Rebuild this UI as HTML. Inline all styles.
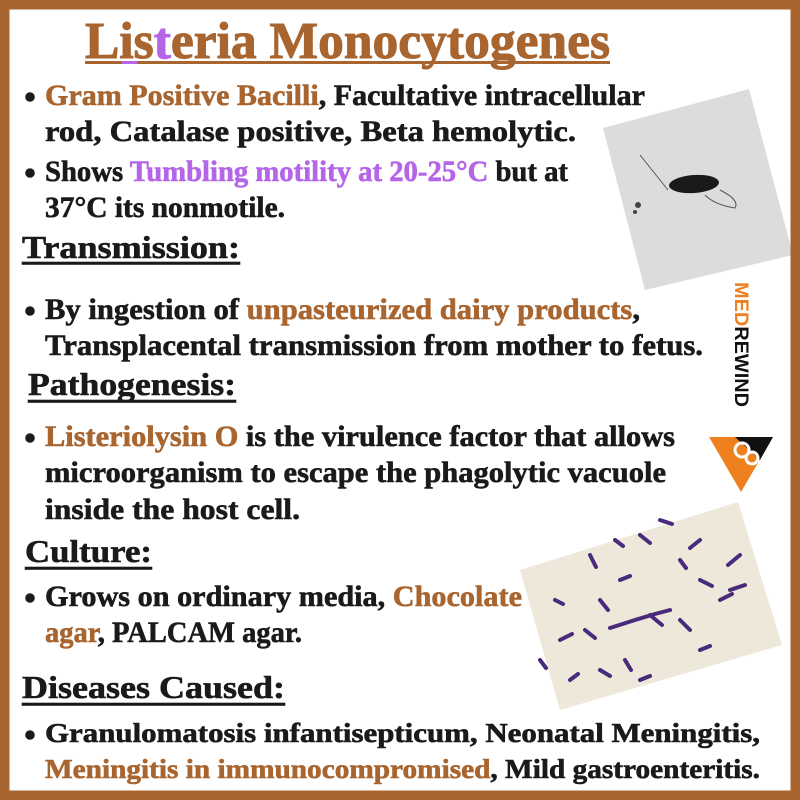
<!DOCTYPE html>
<html><head><meta charset="utf-8"><style>
html,body{margin:0;padding:0;background:#fff;}
svg{display:block;}
text{font-family:"Liberation Serif",serif;font-weight:bold;}
</style></head><body>
<svg width="800" height="800" viewBox="0 0 800 800">
<rect x="0" y="0" width="800" height="800" fill="#fff"/>
<g>
<polygon points="603,128 749,89 793,255 645,290" fill="#dcdcdc"/>
<ellipse cx="694" cy="184" rx="25" ry="9" fill="#1a1a1a" transform="rotate(-4 694 184)"/>
<path d="M640,155 Q660,180 668,190 M720,190 Q740,200 735,208 Q715,205 705,195" stroke="#555" fill="none" stroke-width="1"/>
<circle cx="638" cy="205" r="3" fill="#444"/><circle cx="635" cy="212" r="2" fill="#444"/>
</g>
<g>
<polygon points="520,570 738,502 782,645 560,710" fill="#eee8da"/>
<g stroke="#4a2a7a" stroke-width="4" stroke-linecap="round" fill="none">
<path d="M590,555 l6,12 M615,540 l8,6 M640,535 l10,8 M660,520 l12,4 M700,540 l-10,8 M740,555 l-12,10 M745,585 l-15,5 M560,640 l12,-6 M585,630 l10,8 M610,628 l25,-8 l20,-6 l15,-4 M650,615 l12,10 M680,620 l10,10 M600,600 l8,10 M620,580 l10,-4 M700,580 l12,6 M570,680 l8,-6 M600,670 l10,6 M640,680 l10,-4 M540,660 l6,8 M555,600 l8,4 M720,600 l12,-6 M680,560 l6,8 M625,660 l6,10 M700,650 l10,-4"/>
</g>
</g>
<rect x="4.5" y="4.5" width="791" height="791" fill="none" stroke="#a9652f" stroke-width="10"/>
<g>
<text x="0" y="0" font-size="19" transform="translate(735,282) rotate(90)" textLength="125" lengthAdjust="spacingAndGlyphs"><tspan fill="#ee8020" font-family="Liberation Sans">MED</tspan><tspan fill="#111" font-family="Liberation Sans">REWIND</tspan></text>
<polygon points="709,437 773,437 741,492" fill="#ee8020"/>
<polygon points="735,437 773,437 760,460" fill="#111"/>
<circle cx="742" cy="450" r="7" fill="none" stroke="#fff" stroke-width="3"/>
<circle cx="752" cy="458" r="6" fill="none" stroke="#fff" stroke-width="3"/>
</g>
<text x="85" y="58" font-size="52" fill="#a9652f" stroke="#a9652f" stroke-width="1" textLength="525" lengthAdjust="spacingAndGlyphs">Lis<tspan fill="#b565e8" stroke="#b565e8">t</tspan>eria Monocytogenes</text>
<rect x="85" y="61" width="525" height="3" fill="#a9652f"/>
<rect x="122" y="61" width="15" height="3" fill="#b565e8"/>

<g font-size="30" fill="#1a1a1a" stroke="#1a1a1a" stroke-width="0.6">
<g>
<circle cx="30" cy="97" r="4.5" fill="#1a1a1a"/>
<text x="45" y="105" textLength="600" lengthAdjust="spacingAndGlyphs"><tspan fill="#a9652f" stroke="#a9652f">Gram Positive Bacilli</tspan>, Facultative intracellular</text>
<text x="45" y="141" textLength="531" lengthAdjust="spacingAndGlyphs">rod, Catalase positive, Beta hemolytic.</text>
</g>
<g>
<circle cx="30" cy="173" r="4.5" fill="#1a1a1a"/>
<text x="45" y="181" textLength="523" lengthAdjust="spacingAndGlyphs">Shows <tspan fill="#b565e8" stroke="#b565e8">Tumbling motility at 20-25°C</tspan> but at</text>
<text x="45" y="217" textLength="240" lengthAdjust="spacingAndGlyphs">37°C its nonmotile.</text>
</g>
<g>
<text x="22" y="258" font-size="32" textLength="218" lengthAdjust="spacingAndGlyphs">Transmission:</text>
<rect x="22" y="262" width="218" height="2.5" fill="#1a1a1a"/>
</g>
<g>
<circle cx="30" cy="311" r="4.5" fill="#1a1a1a"/>
<text x="45" y="319" textLength="595" lengthAdjust="spacingAndGlyphs">By ingestion of <tspan fill="#a9652f" stroke="#a9652f">unpasteurized dairy products</tspan>,</text>
<text x="45" y="355" textLength="658" lengthAdjust="spacingAndGlyphs">Transplacental transmission from mother to fetus.</text>
</g>
<g>
<text x="28" y="395" font-size="32" textLength="208" lengthAdjust="spacingAndGlyphs">Pathogenesis:</text>
<rect x="28" y="400" width="208" height="2.5" fill="#1a1a1a"/>
</g>
<g>
<circle cx="30" cy="438" r="4.5" fill="#1a1a1a"/>
<text x="45" y="446" textLength="630" lengthAdjust="spacingAndGlyphs"><tspan fill="#a9652f" stroke="#a9652f">Listeriolysin O</tspan> is the virulence factor that allows</text>
<text x="45" y="482" textLength="621" lengthAdjust="spacingAndGlyphs">microorganism to escape the phagolytic vacuole</text>
<text x="45" y="519" textLength="255" lengthAdjust="spacingAndGlyphs">inside the host cell.</text>
</g>
<g>
<text x="25" y="562" font-size="32" textLength="127" lengthAdjust="spacingAndGlyphs">Culture:</text>
<rect x="25" y="567" width="127" height="2.5" fill="#1a1a1a"/>
</g>
<g>
<circle cx="30" cy="598" r="4.5" fill="#1a1a1a"/>
<text x="45" y="606" textLength="477" lengthAdjust="spacingAndGlyphs">Grows on ordinary media, <tspan fill="#a9652f" stroke="#a9652f">Chocolate</tspan></text>
<text x="45" y="642" textLength="257" lengthAdjust="spacingAndGlyphs"><tspan fill="#a9652f" stroke="#a9652f">agar</tspan>, PALCAM agar.</text>
</g>
<g>
<text x="22" y="698" font-size="32" textLength="263" lengthAdjust="spacingAndGlyphs">Diseases Caused:</text>
<rect x="22" y="703" width="263" height="2.5" fill="#1a1a1a"/>
</g>
<g font-size="27">
<circle cx="30" cy="735" r="4.5" fill="#1a1a1a"/>
<text x="45" y="742" textLength="715" lengthAdjust="spacingAndGlyphs">Granulomatosis infantisepticum, Neonatal Meningitis,</text>
<text x="45" y="778" textLength="715" lengthAdjust="spacingAndGlyphs"><tspan fill="#a9652f" stroke="#a9652f">Meningitis in immunocompromised</tspan>, Mild gastroenteritis.</text>
</g>
</g>
</svg>
</body></html>
